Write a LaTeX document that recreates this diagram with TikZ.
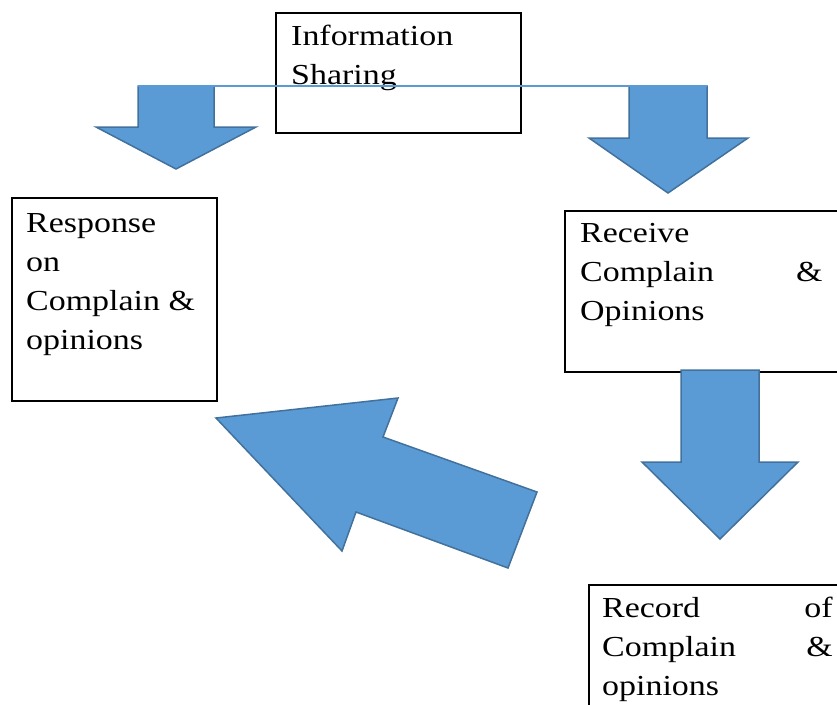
\documentclass[tikz,border=0pt]{standalone}
\usepackage{fontspec}
\usepackage{graphicx}
\setmainfont{Liberation Serif}
\definecolor{arrowfill}{HTML}{5B9BD5}
\definecolor{arrowline}{HTML}{41719C}
\newcommand{\widetext}[2]{\scalebox{1.17}[1]{\parbox[t]{#1}{#2}}}
\tikzset{
  blockarrow/.style={fill=arrowfill, draw=arrowline, line width=1.5pt, line join=miter},
  textbox/.style={draw=black, line width=2.2pt, rectangle, inner sep=0pt, anchor=north west},
  boxtext/.style={anchor=base west, inner sep=0pt, font=\fontsize{29}{39}\selectfont},
  thinline/.style={draw=arrowfill, line width=1.2pt}
}
\begin{document}
\begin{tikzpicture}[x=1pt,y=-1pt]
\useasboundingbox (0,0) rectangle (837,704);
\clip (0,0) rectangle (837,704);
% boxes
\node[textbox, minimum width=245pt, minimum height=120pt] (info) at (275,12) {};
\node[textbox, minimum width=205pt, minimum height=203pt] (resp) at (11,197) {};
\node[textbox, minimum width=290pt, minimum height=161pt] (recv) at (564,210) {};
\node[textbox, minimum width=270pt, minimum height=160pt] (rec) at (588,584) {};
% texts
\node[boxtext] (infot) at (291,45) {\widetext{188pt}{Information\\Sharing}};
\node[boxtext] (respt) at (26,232) {\widetext{160pt}{Response\\on\\Complain \&\\opinions}};
\node[boxtext] (recvt) at (580,242) {\widetext{207pt}{Receive\\\makebox[\linewidth]{Complain\hfill\&}\\Opinions}};
\node[boxtext] (rect) at (602,617) {\widetext{197pt}{\makebox[\linewidth]{Record\hfill of}\\\makebox[\linewidth]{Complain\hfill\&}\\opinions}};
% block arrows
\draw[blockarrow] (138,86) -- (214,86) -- (214,127) -- (256,127) -- (176,169) -- (96,127) -- (138,127) -- cycle;
\draw[blockarrow] (629,86) -- (707,86) -- (707,138) -- (748,138) -- (668,193) -- (589,138) -- (629,138) -- cycle;
\draw[blockarrow] (681,370) -- (759,370) -- (759,462) -- (798,462) -- (720,539) -- (642,462) -- (681,462) -- cycle;
\draw[blockarrow] (216,418) -- (398,398) -- (383,437) -- (537,492) -- (508,568) -- (356,512) -- (342,551) -- cycle;
% thin connecting line
\coordinate (lstart) at (138,86);
\coordinate (lend) at (707,86);
\draw[thinline] (lstart) -- (lend);
\end{tikzpicture}
\end{document}
